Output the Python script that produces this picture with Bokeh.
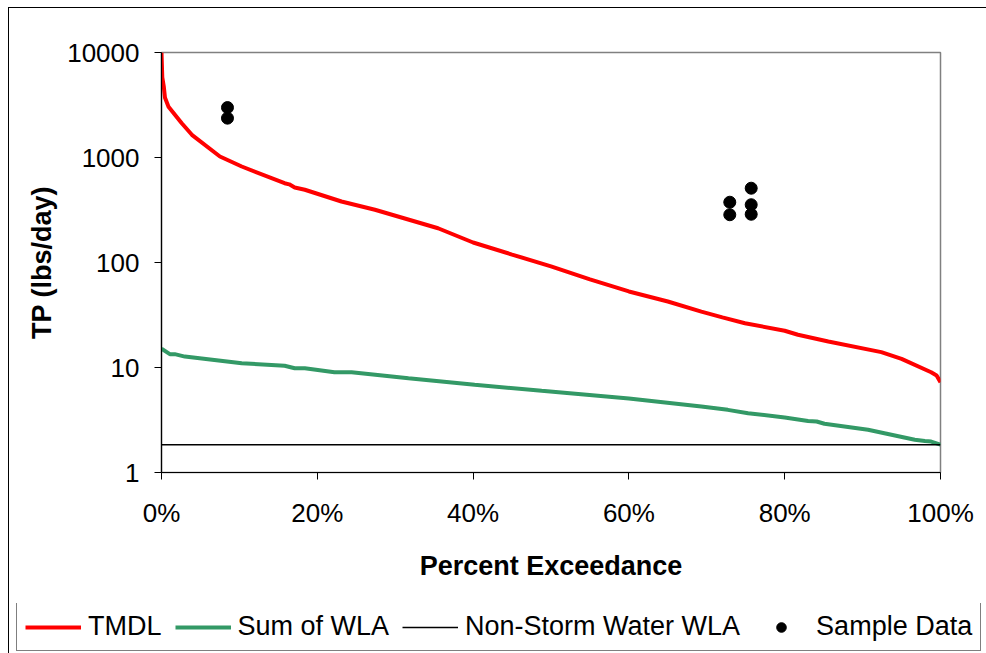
from bokeh.plotting import figure
from bokeh.models import (Legend, LegendItem, FixedTicker, PrintfTickFormatter,
                          Range1d)
from bokeh.embed import file_html
from bokeh.resources import INLINE

# ---- data (percent exceedance, TP lbs/day) ----
tmdl_pct = [0, 0.1, 0.3, 0.45, 0.9, 2.6, 3.9, 7.5, 10.3, 15.8, 16.4, 17.1, 18.4,
            23.1, 27.4, 35.5, 40, 45, 50, 55, 60, 65, 69.3, 72, 74.9, 80, 81.7,
            85.6, 92.4, 95, 98.8, 99.5, 100]
tmdl_val = [10000, 5800, 4700, 3700, 3050, 2120, 1645, 1023, 821, 569, 555, 518, 493,
            381, 318, 212, 155, 119, 92, 69, 53, 42.5, 34, 30, 26.4, 22.4, 20.5,
            17.7, 14.0, 12.1, 9.0, 8.4, 7.24]

wla_pct = [0, 1.07, 1.7, 3, 10.3, 15.8, 17.1, 18.4, 22.2, 24.4, 31.7, 40.2, 48.8,
           60, 69.3, 72.7, 75.3, 80, 83, 84.1, 85.1, 90.7, 96.7, 98, 98.8, 100]
wla_val = [15.1, 13.4, 13.4, 12.7, 11.0, 10.4, 9.85, 9.85, 9.0, 9.0, 7.9, 6.84, 6.0,
           5.07, 4.25, 3.95, 3.67, 3.34, 3.1, 3.06, 2.91, 2.55, 2.05, 2.0, 1.97, 1.84]

nsw_pct = [0, 100]
nsw_val = [1.84, 1.84]

sample_pct = [8.47, 8.47, 72.95, 72.95, 75.7, 75.7, 75.7]
sample_val = [2990, 2370, 375, 285, 510, 355, 288]

x_ticks = [0, 20, 40, 60, 80, 100]
y_ticks = [1, 10, 100, 1000, 10000]
y_tick_labels = {1: "1", 10: "10", 100: "100", 1000: "1000", 10000: "10000"}
legend_labels = ["TMDL", "Sum of WLA", "Non-Storm Water WLA", "Sample Data"]

FONT = "Liberation Sans"
RED, GREEN = "#FF0000", "#339966"

p = figure(width=978, height=596, output_backend="svg", toolbar_location=None,
           y_axis_type="log", x_range=Range1d(0, 100), y_range=Range1d(1, 10000),
           min_border_left=152, min_border_top=44, min_border_right=47,
           min_border_bottom=132)
p.margin = (7, 0, 0, 8)
p.styles = {"border-top": "1px solid black", "border-left": "1px solid black"}
p.grid.visible = False
p.outline_line_color = "#808080"
p.outline_line_width = 1.5
p.background_fill_color = "white"
p.border_fill_color = "white"

p.line(tmdl_pct, tmdl_val, line_color=RED, line_width=4)
p.line(wla_pct, wla_val, line_color=GREEN, line_width=4)
p.line(nsw_pct, nsw_val, line_color="black", line_width=1.5)
p.scatter(sample_pct, sample_val, size=12, fill_color="black", line_color="black")

for ax in (p.xaxis[0], p.yaxis[0]):
    ax.axis_line_color = "black"
    ax.axis_line_width = 1.2
    ax.major_tick_line_color = "black"
    ax.major_tick_in = 0
    ax.major_tick_out = 7
    ax.minor_tick_line_color = None
    ax.major_label_text_font = FONT
    ax.major_label_text_font_size = "26px"
    ax.major_label_text_color = "black"
    ax.axis_label_text_font = FONT
    ax.axis_label_text_font_size = "27px"
    ax.axis_label_text_font_style = "bold"
    ax.axis_label_text_color = "black"

p.xaxis.ticker = FixedTicker(ticks=x_ticks)
p.xaxis.formatter = PrintfTickFormatter(format="%d%%")
p.xaxis.axis_label = "Percent Exceedance"
p.xaxis.major_label_standoff = 18
p.xaxis.axis_label_standoff = 20

p.yaxis.ticker = FixedTicker(ticks=y_ticks)
p.yaxis.major_label_overrides = y_tick_labels
p.yaxis.axis_label = "TP (lbs/day)"
p.yaxis.major_label_standoff = 15
p.yaxis.axis_label_standoff = 7

# ---- legend strip (separate root so the legend is not clipped or aligned) ----
q = figure(width=978, height=50, output_backend="svg", toolbar_location=None,
           x_range=Range1d(0, 1), y_range=Range1d(0, 1),
           x_axis_location=None, y_axis_location=None,
           min_border_left=0, min_border_right=0, min_border_top=0, min_border_bottom=0)
q.margin = (0, 0, 0, 8)
q.styles = {"border-left": "1px solid black"}
q.grid.visible = False
q.outline_line_color = None
q.border_fill_color = "white"
q.background_fill_color = "white"

l_tmdl = q.line([-2, -1], [-2, -2], line_color=RED, line_width=4)
l_wla = q.line([-2, -1], [-2, -2], line_color=GREEN, line_width=4)
l_nsw = q.line([-2, -1], [-2, -2], line_color="black", line_width=1.5)
l_smp = q.scatter([-2], [-2], size=12, fill_color="black", line_color="black")

legend = Legend(items=[LegendItem(label=lab, renderers=[r]) for lab, r in
                       zip(legend_labels, [l_tmdl, l_wla, l_nsw, l_smp])],
                orientation="horizontal", location=(7, 2),
                label_text_font=FONT, label_text_font_size="27px",
                label_text_color="black",
                glyph_width=56, glyph_height=24, label_standoff=7, spacing=13,
                padding=8, margin=0, border_line_color="black", border_line_width=1,
                background_fill_color="white", background_fill_alpha=1.0)
q.add_layout(legend)

open("out.html", "w").write(file_html([p, q], INLINE))
